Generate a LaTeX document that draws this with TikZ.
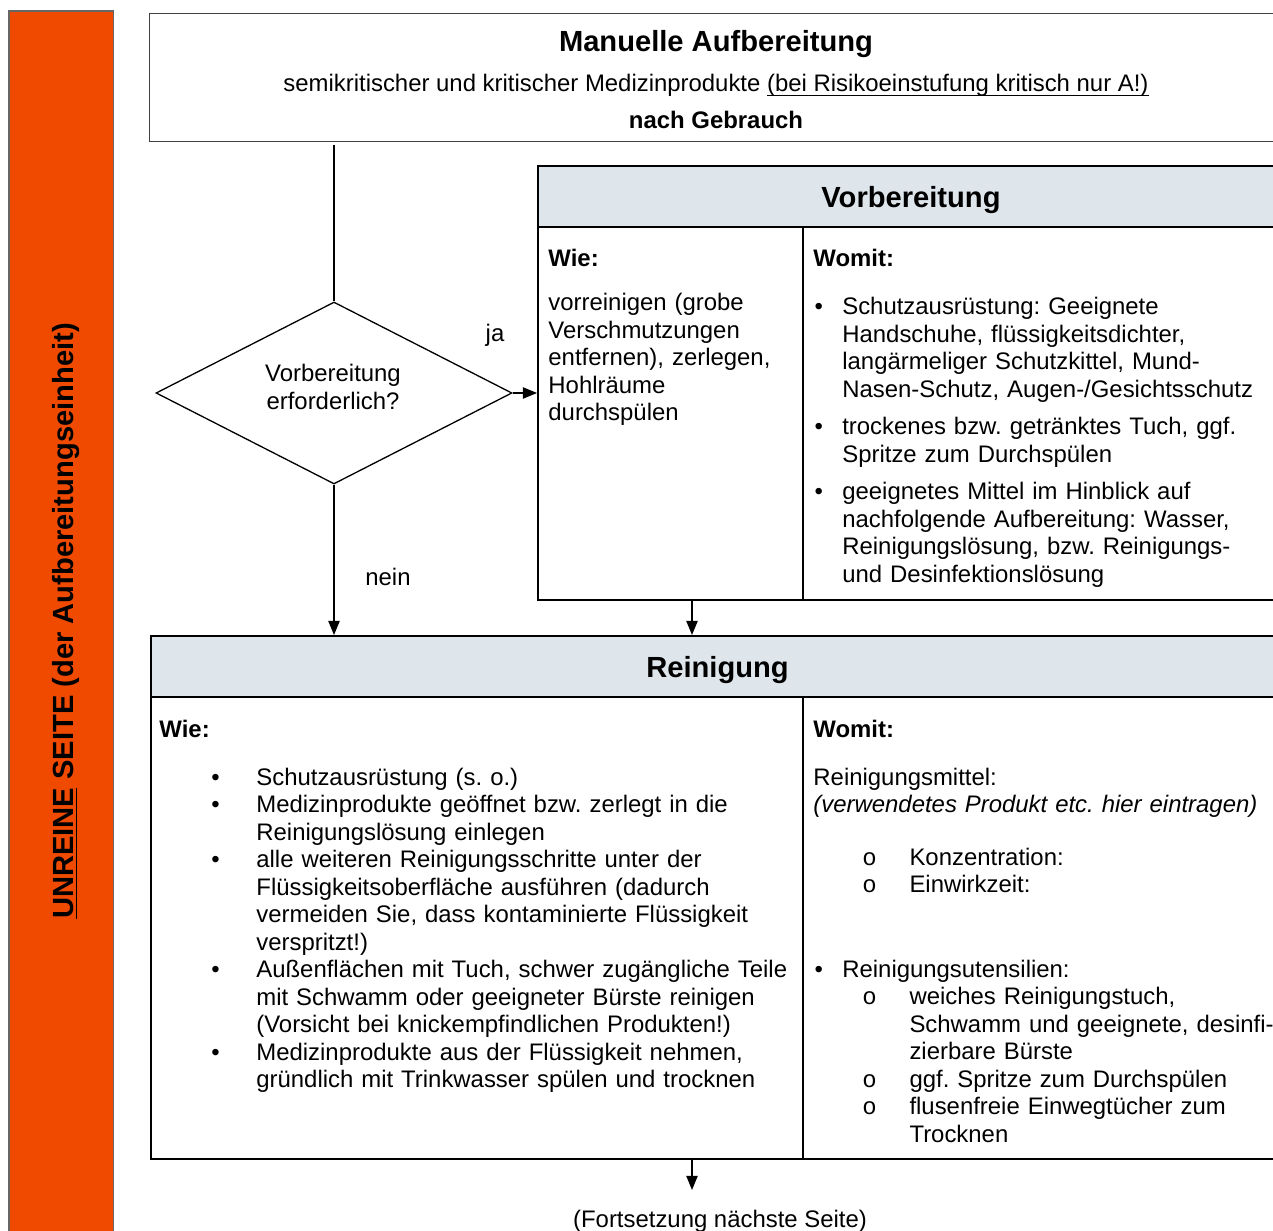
\documentclass[tikz,border=0pt]{standalone}
\usepackage{fontspec}
\setmainfont{Liberation Sans}
\newfontfamily\kreisfont{Liberation Mono}
\usepackage{tikz}
\usetikzlibrary{shapes.geometric,arrows.meta}
\frenchspacing

\definecolor{unrein}{RGB}{239,74,0}
\definecolor{kopf}{RGB}{222,230,236}

% Aufzaehlungspunkt mit haengendem Einzug
\newcommand{\pkt}[4]{\hangindent=#3\hangafter=1\leavevmode\makebox[#3][l]{\hspace*{#2}#1}#4\par}
\newcommand{\kreisO}{{\kreisfont o}}
\newcommand{\unterstr}[1]{\underline{\smash{#1}}}

\tikzset{
	rahmen/.style={draw=black!75, line width=0.45pt, inner sep=0pt},
	kasten/.style={draw, line width=0.9pt, inner sep=0pt},
	kopf/.style={draw, line width=0.9pt, fill=kopf, inner sep=0pt, text depth=0pt, font=\fontsize{13.4}{15}\selectfont\bfseries},
	txt/.style={inner sep=0pt, anchor=base west, text width=#1, align=left, font=\fontsize{11}{12.65}\selectfont\frenchspacing},
	txt/.default=230pt,
	fett/.style={inner sep=0pt, anchor=base west, font=\fontsize{11}{12.65}\selectfont\bfseries},
	pfeil/.style={-{Triangle[length=6.5pt,width=5.2pt]}, line width=0.6pt},
	linie/.style={line width=0.6pt},
}

\begin{document}
\begin{tikzpicture}[x=0.46pt,y=-0.46pt]
			\useasboundingbox (0,0) rectangle (1273,1231);
			\clip (0,0) rectangle (1273,1231);
			
			\path[fill=unrein, draw=black!60, line width=0.5pt] (9,11) rectangle (113.5,1245);
			\node[rotate=90, anchor=base, font=\fontsize{13.4}{15}\selectfont\bfseries](u) at (73,621) {\unterstr{UNREINE} SEITE (der Aufbereitungseinheit)};
			
			\node[rahmen, minimum width=1135*0.46pt, minimum height=128*0.46pt](T) at (716.5,77) {};
			\node[anchor=base, inner sep=0pt, font=\fontsize{13.4}{15}\selectfont\bfseries](t1) at (716,52) {Manuelle Aufbereitung};
			\node[anchor=base, inner sep=0pt, font=\fontsize{11}{12.65}\selectfont](t2) at (716,92) {semikritischer und kritischer Medizinprodukte \unterstr{(bei Risikoeinstufung kritisch nur A!)}};
			\node[anchor=base, inner sep=0pt, font=\fontsize{11}{12.65}\selectfont\bfseries](t3) at (716,129) {nach Gebrauch};
			
			\node[draw, diamond, line width=0.6pt, inner sep=0pt, minimum width=356*0.46pt, minimum height=182*0.46pt](D) at (334,393) {};
			\node[align=center, inner sep=0pt, font=\fontsize{11}{12.65}\selectfont](d) at (333,387) {Vorbereitung\\erforderlich?};
			
			\node[kopf, minimum width=746*0.46pt, minimum height=61*0.46pt](V) at (911,196.5) {Vorbereitung};
			\node[kasten, minimum width=746*0.46pt, minimum height=373*0.46pt](v) at (911,413.5) {};
			\node[fett](vw0) at (548,267) {Wie:};
			\node[fett](vm0) at (813,267) {Womit:};
			\node[txt](vw) at (548,311) {vorreinigen (grobe\newline Verschmutzungen\newline entfernen), zerlegen,\newline Hohlräume\newline durchspülen};
			\node[txt](vm) at (813,315) {\setlength{\parskip}{4.6pt}%
				\pkt{\textbullet}{0.5pt}{13.3pt}{Schutzausrüstung: Geeignete\newline Handschuhe, flüssigkeitsdichter,\newline langärmeliger Schutzkittel, Mund-\newline Nasen-Schutz, Augen-/Gesichtsschutz}
				\pkt{\textbullet}{0.5pt}{13.3pt}{trockenes bzw. getränktes Tuch, ggf.\newline Spritze zum Durchspülen}
				\pkt{\textbullet}{0.5pt}{13.3pt}{geeignetes Mittel im Hinblick auf\newline nachfolgende Aufbereitung: Wasser,\newline Reinigungslösung, bzw. Reinigungs-\newline und Desinfektionslösung}};
			
			\node[kopf, minimum width=1133*0.46pt, minimum height=61*0.46pt](R) at (717.5,666.5) {Reinigung};
			\node[kasten, minimum width=1133*0.46pt, minimum height=462*0.46pt](r) at (717.5,928) {};
			\node[fett](rw0) at (159,737) {Wie:};
			\node[fett](rm0) at (813,737) {Womit:};
			\node[txt=300pt](rw) at (159,785) {%
				\pkt{\textbullet}{23.9pt}{44.6pt}{Schutzausrüstung (s. o.)}
				\pkt{\textbullet}{23.9pt}{44.6pt}{Medizinprodukte geöffnet bzw. zerlegt in die\newline Reinigungslösung einlegen}
				\pkt{\textbullet}{23.9pt}{44.6pt}{alle weiteren Reinigungsschritte unter der\newline Flüssigkeitsoberfläche ausführen (dadurch\newline vermeiden Sie, dass kontaminierte Flüssigkeit\newline verspritzt!)}
				\pkt{\textbullet}{23.9pt}{44.6pt}{Außenflächen mit Tuch, schwer zugängliche Teile\newline mit Schwamm oder geeigneter Bürste reinigen\newline (Vorsicht bei knickempfindlichen Produkten!)}
				\pkt{\textbullet}{23.9pt}{44.6pt}{Medizinprodukte aus der Flüssigkeit nehmen,\newline gründlich mit Trinkwasser spülen und trocknen}};
			\node[txt](rm1) at (813,785) {Reinigungsmittel:\newline \textit{(verwendetes Produkt etc. hier eintragen)}};
			\node[txt](rm2) at (813,865) {%
				\pkt{\kreisO}{22.5pt}{44.2pt}{Konzentration:}
				\pkt{\kreisO}{22.5pt}{44.2pt}{Einwirkzeit:}};
			\node[txt](rm3) at (813,977) {%
				\pkt{\textbullet}{0.5pt}{13.3pt}{Reinigungsutensilien:}
				\pkt{\kreisO}{22.5pt}{44.2pt}{weiches Reinigungstuch,\newline Schwamm und geeignete, desinfi-\newline zierbare Bürste}
				\pkt{\kreisO}{22.5pt}{44.2pt}{ggf. Spritze zum Durchspülen}
				\pkt{\kreisO}{22.5pt}{44.2pt}{flusenfreie Einwegtücher zum\newline Trocknen}};
			
			\node[anchor=base, inner sep=0pt, font=\fontsize{11}{12.65}\selectfont](ja) at (495,342) {ja};
			\node[anchor=base, inner sep=0pt, font=\fontsize{11}{12.65}\selectfont](nein) at (388,585) {nein};
			\node[anchor=base, inner sep=0pt, font=\fontsize{11}{12.65}\selectfont](F) at (720,1227) {(Fortsetzung nächste Seite)};
			
			\coordinate (s) at (803,0);
			\coordinate (m) at (692,0);
			\coordinate (e) at (692,1190);
			
			\draw[linie] (V.south -| s) -- (v.south -| s);
			\draw[linie] (R.south -| s) -- (r.south -| s);
			\draw[line width=1.3pt, shorten <=1.5pt] (T.south -| D.north) -- (D.north);
			\draw[pfeil] (D.east) -- (D.east -| v.west);
			\draw[pfeil] (D.south) -- (D.south |- R.north);
			\draw[pfeil] (v.south -| m) -- (R.north -| m);
			\draw[pfeil] (r.south -| m) -- (e);
			
\end{tikzpicture}
\end{document}
